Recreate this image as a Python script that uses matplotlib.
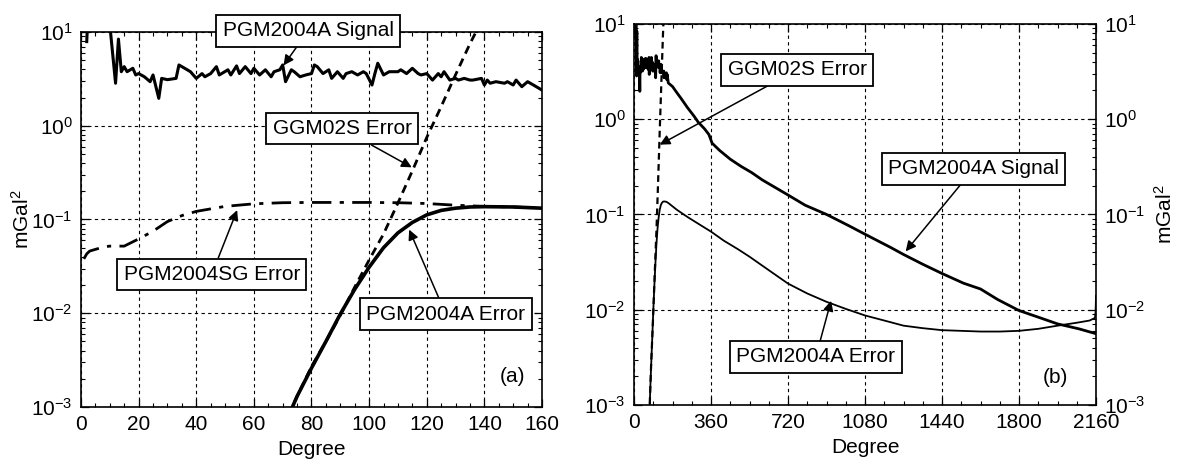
import matplotlib

matplotlib.use("Agg")
import matplotlib.pyplot as plt
from matplotlib.ticker import FixedLocator, MultipleLocator, LogLocator, NullFormatter

plt.rcParams.update({
    "font.family": ["Liberation Sans", "DejaVu Sans"],
    "mathtext.default": "regular",
    "font.size": 14,
})

# PGM2004A signal degree variances (mGal^2)
sig_deg = [2, 3, 6, 9, 10, 12, 13, 14, 15, 16, 18, 19, 20, 22, 24, 25, 27, 28, 30,
           33, 34, 36, 38, 40, 42, 43, 45, 47, 48, 51, 52, 54, 55, 57, 59, 60, 62,
           64, 66, 67, 69, 70, 71, 73, 74, 76, 78, 80, 81, 82, 84, 86, 87, 89, 91,
           92, 94, 96, 98, 99, 101, 102, 103, 105, 107, 110, 111, 113, 115, 117,
           118, 120, 122, 124, 125, 126, 128, 130, 131, 133, 135, 136, 139, 140,
           141, 142, 144, 147, 148, 150, 151, 153, 155, 157, 158, 160]
sig_val = [7.9, 40, 35, 25, 12, 2.84, 8.4, 3.77, 4.27, 3.77, 4.1, 3.48, 3.6, 3.33,
           2.95, 3.48, 1.96, 3.2, 3.1, 3.2, 4.45, 4.1, 3.77, 3.2, 3.6, 3.33, 3.6,
           4.27, 3.48, 3.95, 3.48, 4.35, 3.6, 4.27, 3.6, 4.1, 3.48, 3.95, 3.33, 3.77,
           3.95, 4.45, 2.95, 3.95, 3.77, 3.33, 3.48, 3.6, 4.45, 4.27, 3.6, 3.95, 3.2,
           3.77, 3.2, 3.6, 3.77, 3.48, 3.77, 3.6, 2.72, 3.6, 4.64, 3.48, 3.77, 3.77,
           3.95, 3.6, 4.1, 3.6, 3.48, 3.6, 3.07, 3.6, 3.33, 3.77, 3.07, 3.2, 3.07,
           3.2, 3.07, 3.07, 3.2, 2.72, 3.07, 2.84, 2.95, 2.84, 2.95, 2.72, 3.07, 2.61,
           2.95, 2.72, 2.61, 2.4]
# continuation to degree 2160
sig_deg_hi = [180, 200, 220, 250, 280, 300, 330, 350, 365, 400, 450, 500, 550, 600,
              720, 800, 900, 1000, 1080, 1200, 1260, 1350, 1440, 1540, 1620, 1700,
              1800, 1900, 1980, 2080, 2160]
sig_val_hi = [2.2, 1.9, 1.65, 1.32, 1.08, 0.93, 0.79, 0.69, 0.56, 0.47, 0.38, 0.32,
              0.275, 0.23, 0.16, 0.125, 0.1, 0.077, 0.062, 0.045, 0.038, 0.03, 0.024,
              0.019, 0.0165, 0.0128, 0.0098, 0.0082, 0.0071, 0.0063, 0.0056]

# PGM2004A error degree variances
err_deg = [72, 75, 80, 85, 90, 95, 100, 105, 110, 115, 120, 125, 130, 135, 140,
           150, 160]
err_val = [8e-4, 1.3e-3, 2.6e-3, 5e-3, 9.8e-3, 1.8e-2, 3.1e-2, 5e-2, 7.2e-2,
           9.3e-2, 0.112, 0.125, 0.132, 0.136, 0.137, 0.136, 0.132]
err_deg_hi = [200, 250, 300, 360, 420, 487, 540, 630, 720, 810, 900, 990, 1080,
              1170, 1260, 1350, 1440, 1530, 1620, 1710, 1800, 1890, 1980, 2070,
              2130, 2155, 2158, 2160]
err_val_hi = [0.112, 0.094, 0.08, 0.066, 0.053, 0.043, 0.036, 0.026, 0.0188,
              0.0148, 0.0121, 0.0102, 0.0087, 0.0077, 0.0068, 0.0064, 0.0061,
              0.006, 0.0059, 0.0059, 0.006, 0.0063, 0.0068, 0.0073, 0.0077,
              0.0082, 0.0095, 0.014]

# GGM02S error degree variances
ggm_deg = [70, 75, 80, 85, 90, 95, 100, 105, 110, 115, 120, 125, 130, 135, 140]
ggm_val = [6e-4, 1.3e-3, 2.7e-3, 5e-3, 9.5e-3, 1.9e-2, 3.7e-2, 7e-2, 0.15, 0.33,
           0.75, 1.6, 3.5, 7.5, 15]

# PGM2004SG error degree variances
sg_deg = [1, 2, 3, 5, 8, 10, 15, 20, 25, 30, 35, 40, 50, 60, 70, 80, 100, 110, 120,
          130, 140, 150, 160]
sg_val = [0.038, 0.043, 0.046, 0.048, 0.051, 0.052, 0.052, 0.062, 0.075, 0.095,
          0.11, 0.122, 0.138, 0.147, 0.151, 0.152, 0.152, 0.151, 0.148, 0.142,
          0.138, 0.136, 0.132]

BOX = dict(boxstyle="square,pad=0.3", fc="white", ec="black", lw=1.3)
ARROW = dict(arrowstyle="-|>", color="black", lw=1.1, mutation_scale=15,
             shrinkA=0, shrinkB=0)


def style_axes(ax):
    ax.set_yscale("log")
    ax.set_ylim(1e-3, 10)
    ax.yaxis.set_major_locator(FixedLocator([1e-3, 1e-2, 1e-1, 1, 10]))
    ax.yaxis.set_minor_locator(LogLocator(base=10, subs=range(2, 10)))
    ax.yaxis.set_minor_formatter(NullFormatter())
    ax.tick_params(which="both", direction="in", top=True, right=True,
                   labelsize=15, pad=6)
    ax.tick_params(which="major", length=6, width=0.9)
    ax.tick_params(which="minor", length=3, width=0.8)
    ax.grid(True, which="major", color="black", lw=0.8, ls=(0, (3, 3)))
    for s in ax.spines.values():
        s.set_linewidth(1.2)
    ax.set_xlabel("Degree", fontsize=15, labelpad=4)


def note(ax, text, xy, xytext):
    ax.annotate(text, xy=xy, xytext=xytext, ha="center", va="center",
                fontsize=15, bbox=BOX, arrowprops=ARROW, zorder=10,
                annotation_clip=False)


fig = plt.figure(figsize=(11.77, 4.67), dpi=100)
ax1 = fig.add_axes([0.0688, 0.1285, 0.3917, 0.803])
ax2 = fig.add_axes([0.5387, 0.1328, 0.3925, 0.816])

# ---- panel (a)
ax1.plot(sig_deg, sig_val, color="black", lw=2.2, solid_joinstyle="round")
ax1.plot(sg_deg, sg_val, color="black", lw=2.0, ls=(0, (7, 3, 1.5, 3)))
ax1.plot(ggm_deg, ggm_val, color="black", lw=2.0, ls=(0, (3, 2)))
ax1.plot(err_deg, err_val, color="black", lw=2.6)
style_axes(ax1)
ax1.set_xlim(0, 160)
ax1.xaxis.set_major_locator(MultipleLocator(20))
ax1.xaxis.set_minor_locator(MultipleLocator(5))
ax1.set_ylabel("mGal$^2$", fontsize=15, labelpad=-1)

note(ax1, "PGM2004A Signal", (70.3, 4.4), (78.8, 10.25))
note(ax1, "GGM02S Error", (114.8, 0.36), (90.6, 0.93))
note(ax1, "PGM2004SG Error", (54.2, 0.126), (45.4, 0.026))
note(ax1, "PGM2004A Error", (113.9, 0.078), (126.6, 0.0098))
ax1.text(149.7, 2.1e-3, "(a)", ha="center", va="center", fontsize=15)

# ---- panel (b)
ax2.plot(sig_deg + sig_deg_hi, sig_val + sig_val_hi, color="black", lw=2.0,
         solid_joinstyle="round")
ax2.plot(ggm_deg, ggm_val, color="black", lw=1.6, ls=(0, (3, 2)))
ax2.plot(err_deg + err_deg_hi, err_val + err_val_hi, color="black", lw=1.3)
style_axes(ax2)
ax2.set_xlim(0, 2160)
ax2.xaxis.set_major_locator(MultipleLocator(360))
ax2.xaxis.set_minor_locator(MultipleLocator(90))
ax2.tick_params(labelright=True, labelleft=True)
ax2.yaxis.set_label_position("right")
ax2.set_ylabel("mGal$^2$", fontsize=15, labelpad=6)

note(ax2, "GGM02S Error", (120, 0.54), (763, 3.3))
note(ax2, "PGM2004A Signal", (1270, 0.041), (1587, 0.30))
note(ax2, "PGM2004A Error", (921, 0.0124), (850, 3.2e-3))
ax2.text(1968, 1.95e-3, "(b)", ha="center", va="center", fontsize=15)

fig.savefig("out.png", dpi=100)
